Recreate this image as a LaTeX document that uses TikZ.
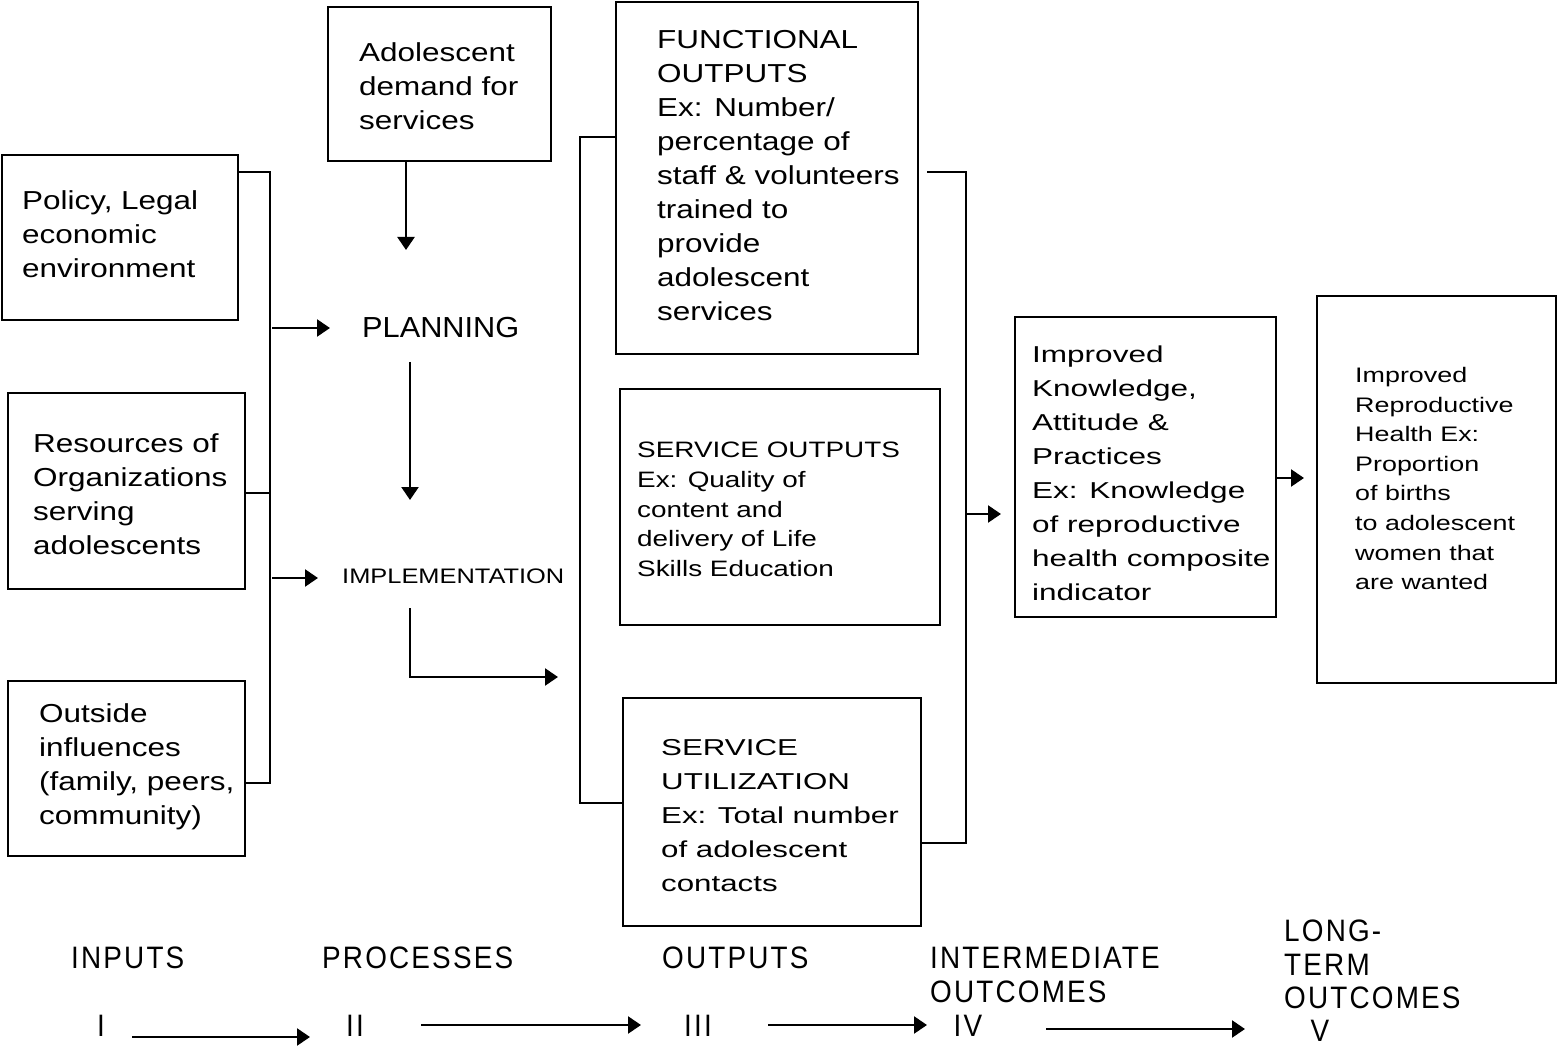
\documentclass[tikz,border=0pt]{standalone}
\usepackage{fontspec}
\setmainfont{Liberation Sans}
\newfontfamily\fntA{Liberation Sans}[FakeStretch=1.21]
\newfontfamily\fntS{Liberation Sans}[FakeStretch=1.25]
\newfontfamily\fntU{Liberation Sans}[FakeStretch=1.36]
\newfontfamily\fntK{Liberation Sans}[FakeStretch=1.37]
\newfontfamily\fntR{Liberation Sans}[FakeStretch=1.28]
\newfontfamily\fntP{Liberation Sans}[FakeStretch=1.06]
\newfontfamily\fntI{Liberation Sans}[FakeStretch=1.21]
\newfontfamily\fntL{Liberation Sans}[FakeStretch=0.9,LetterSpace=7]
\usetikzlibrary{arrows.meta}
\begin{document}
\begin{tikzpicture}[x=1pt,y=-1pt,
  box/.style={draw, line width=2.2pt, inner sep=0pt, outer sep=0pt, anchor=north west},
  txt/.style={inner sep=0pt, align=left, anchor=west},
  ln/.style={line width=2.4pt},
  arr/.style={line width=2.4pt, -{Triangle[length=13pt,width=17pt]}},
  tA/.style={txt, font=\fntA\fontsize{26}{34}\selectfont},
  tS/.style={txt, font=\fntS\fontsize{22.3}{29.8}\selectfont},
  tU/.style={txt, font=\fntU\fontsize{23}{34}\selectfont},
  tK/.style={txt, font=\fntK\fontsize{23}{34}\selectfont},
  tR/.style={txt, font=\fntR\fontsize{21}{29.6}\selectfont},
  tP/.style={txt, font=\fntP\fontsize{29}{34}\selectfont},
  tI/.style={txt, font=\fntI\fontsize{21}{30}\selectfont},
  tL/.style={txt, font=\fntL\fontsize{31}{33.5}\selectfont},
  tN/.style={inner sep=0pt, font=\fntL\fontsize{31}{33.5}\selectfont}
]
\useasboundingbox (0,0) rectangle (1558,1048);

% boxes
\node[box, minimum width=236pt, minimum height=165pt] (pol) at (2,155) {};
\node[box, minimum width=237pt, minimum height=196pt] (res) at (8,393) {};
\node[box, minimum width=237pt, minimum height=175pt] (out) at (8,681) {};
\node[box, minimum width=223pt, minimum height=154pt] (dem) at (328,7) {};
\node[box, minimum width=302pt, minimum height=352pt] (fun) at (616,2) {};
\node[box, minimum width=320pt, minimum height=236pt] (sop) at (620,389) {};
\node[box, minimum width=298pt, minimum height=228pt] (sut) at (623,698) {};
\node[box, minimum width=261pt, minimum height=300pt] (kap) at (1015,317) {};
\node[box, minimum width=239pt, minimum height=387pt] (rh) at (1317,296) {};

% texts
\node[tA] (polt) at (22,234.5) {Policy, Legal\\economic\\environment};
\node[tA] (rest) at (33,494) {Resources of\\Organizations\\serving\\adolescents};
\node[tA] (outt) at (39,767) {Outside\\influences\\(family, peers,\\community)};
\node[tA] (demt) at (359,86) {Adolescent\\demand for\\services};
\node[tA] (funt) at (657,176) {FUNCTIONAL\\OUTPUTS\\Ex: Number/\\percentage of\\staff \& volunteers\\trained to\\provide\\adolescent\\services};
\node[tS] (sopt) at (637,509.5) {SERVICE OUTPUTS\\Ex: Quality of\\content and\\delivery of Life\\Skills Education};
\node[tU] (sutt) at (661,816) {SERVICE\\UTILIZATION\\Ex: Total number\\of adolescent\\contacts};
\node[tK] (kapt) at (1032,473.5) {Improved\\Knowledge,\\Attitude \&\\Practices\\Ex: Knowledge\\of reproductive\\health composite\\indicator};
\node[tR] (rht) at (1355,478.5) {Improved\\Reproductive\\Health Ex:\\Proportion\\of births\\to adolescent\\women that\\are wanted};
\node[tP] (plan) at (362,328) {PLANNING};
\node[tI] (impl) at (342,576) {IMPLEMENTATION};

% bottom labels
\node[tL] (inp) at (71,958) {INPUTS};
\node[tL] (pro) at (322,958) {PROCESSES};
\node[tL] (opt) at (662,958) {OUTPUTS};
\node[tL] (int) at (930,975) {INTERMEDIATE\\OUTCOMES};
\node[tL] (lto) at (1284,964.5) {LONG-\\TERM\\OUTCOMES};
\node[tN] (r1) at (101,1026) {I};
\node[tN] (r2) at (355,1026) {II};
\node[tN] (r3) at (698,1026) {III};
\node[tN] (r4) at (968,1026) {IV};
\node[tN] (r5) at (1320,1031) {V};

% coordinates
\coordinate (lb1) at (270,172);
\coordinate (lb2) at (270,493);
\coordinate (lb3) at (270,783);
\coordinate (la1s) at (272,328);
\coordinate (la1e) at (330,328);
\coordinate (la2s) at (272,578);
\coordinate (la2e) at (318,578);
\coordinate (d1) at (406,161);
\coordinate (d2) at (406,250);
\coordinate (p1) at (410,362);
\coordinate (p2) at (410,500);
\coordinate (i1) at (410,608);
\coordinate (i2) at (410,677);
\coordinate (i3) at (558,677);
\coordinate (ob1) at (580,137);
\coordinate (ob2) at (580,803);
\coordinate (rb0) at (927,172);
\coordinate (rb1) at (966,172);
\coordinate (rb2) at (966,843);
\coordinate (rbm) at (966,514);
\coordinate (rbe) at (1001,514);
\coordinate (ka1) at (1276,478);
\coordinate (ka2) at (1304,478);
\coordinate (b1s) at (132,1037);
\coordinate (b1e) at (310,1037);
\coordinate (b2s) at (421,1025);
\coordinate (b2e) at (641,1025);
\coordinate (b3s) at (768,1025);
\coordinate (b3e) at (927,1025);
\coordinate (b4s) at (1046,1029);
\coordinate (b4e) at (1245,1029);

% left bracket
\draw[ln] (pol.east |- lb1) -- (lb1) -- (lb3) -- (out.east |- lb3);
\draw[ln] (res.east |- lb2) -- (lb2);
\draw[arr] (la1s) -- (la1e);
\draw[arr] (la2s) -- (la2e);

% process arrows
\draw[arr] (dem.south -| d1) -- (d2);
\draw[arr] (p1) -- (p2);
\draw[arr] (i1) -- (i2) -- (i3);

% output bracket
\draw[ln] (fun.west |- ob1) -- (ob1) -- (ob2) -- (sut.west |- ob2);

% right bracket
\draw[ln] (rb0) -- (rb1) -- (rb2) -- (sut.east |- rb2);
\draw[arr] (rbm) -- (rbe);
\draw[arr] (kap.east |- ka1) -- (ka2);

% bottom arrows
\draw[arr] (b1s) -- (b1e);
\draw[arr] (b2s) -- (b2e);
\draw[arr] (b3s) -- (b3e);
\draw[arr] (b4s) -- (b4e);
\end{tikzpicture}
\end{document}
